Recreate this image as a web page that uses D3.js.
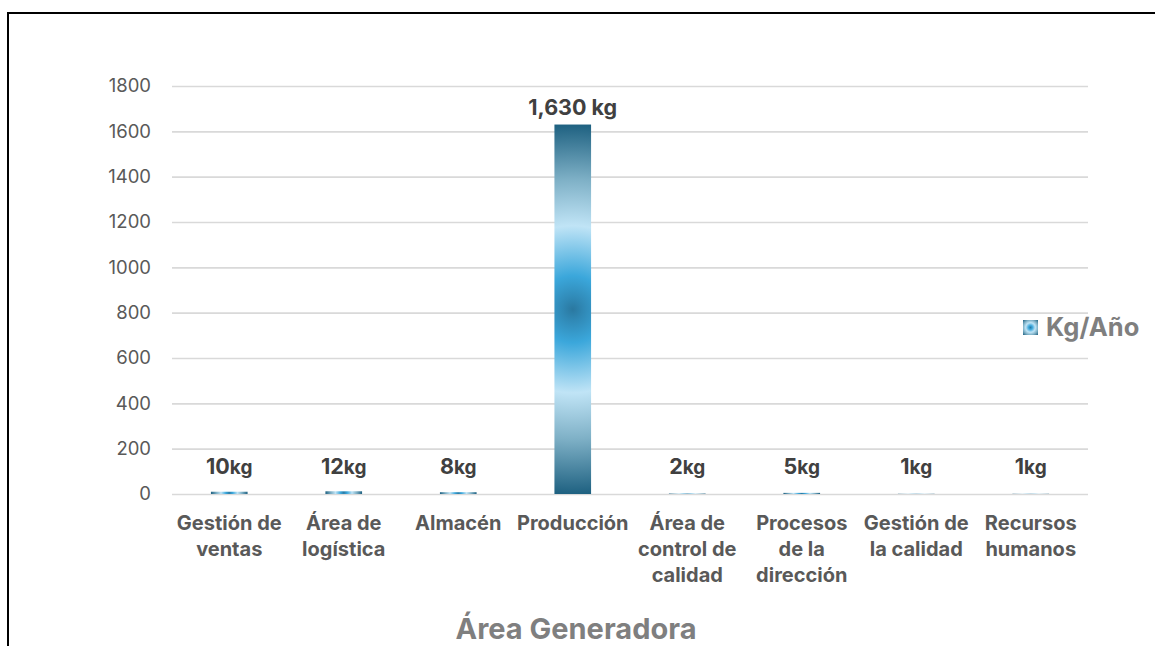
<!DOCTYPE html>
<html>
<head>
<meta charset="utf-8">
<script src="https://cdn.jsdelivr.net/npm/d3@7"></script>
<style>
  html, body { margin: 0; padding: 0; background: #fff; }
  svg { display: block; font-family: Inter, "Noto Sans", sans-serif; }
</style>
</head>
<body>
<svg id="chart" width="1155" height="646"></svg>
<script>
// Waste generated per area (kg per year)
const categories = [
  "Gestión de\nventas",
  "Área de\nlogística",
  "Almacén",
  "Producción",
  "Área de\ncontrol de\ncalidad",
  "Procesos\nde la\ndirección",
  "Gestión de\nla calidad",
  "Recursos\nhumanos"
];
const values = [10, 12, 8, 1630, 2, 5, 1, 1];
const valueLabels = ["10", "12", "8", "1,630 kg", "2", "5", "1", "1"];
const yTicks = [0, 200, 400, 600, 800, 1000, 1200, 1400, 1600, 1800];
const seriesName = "Kg/Año";
const axisTitle = "Área Generadora";

const svg = d3.select("#chart");
const plot = { left: 172, right: 1088, top: 86, bottom: 494 };

// Outer frame
svg.append("rect")
  .attr("x", 8).attr("y", 13)
  .attr("width", 1300).attr("height", 800)
  .attr("fill", "none").attr("stroke", "#000").attr("stroke-width", 2);

const x = d3.scaleBand()
  .domain(categories)
  .range([plot.left, plot.right])
  .paddingInner(0.68)
  .paddingOuter(0.34);

const y = d3.scaleLinear()
  .domain([0, 1800])
  .range([plot.bottom, plot.top]);

// Gridlines and value axis labels
const yAxis = d3.axisLeft(y)
  .tickValues(yTicks)
  .tickFormat(d3.format("d"))
  .tickSize(-(plot.right - plot.left))
  .tickPadding(21);

const gy = svg.append("g")
  .attr("transform", `translate(${plot.left},0)`)
  .call(yAxis);
gy.select(".domain").remove();
gy.selectAll(".tick line").attr("stroke", "#d9d9d9").attr("stroke-width", 1.6);
gy.selectAll(".tick text")
  .attr("fill", "#595959")
  .style("font-size", "18.5px")
  .style("font-family", "Inter, sans-serif");

// Circular fill stops, from the centre outward
const stops = [
  [0.00, "#2a78a0"],
  [0.06, "#3089b6"],
  [0.18, "#3ba7db"],
  [0.45, "#c0e4f6"],
  [0.70, "#7eb0c6"],
  [1.00, "#1d6080"]
];
const defs = svg.append("defs");
function addGradient(id, cx, cy, w, h) {
  const g = defs.append("radialGradient")
    .attr("id", id)
    .attr("gradientUnits", "userSpaceOnUse")
    .attr("cx", cx).attr("cy", cy)
    .attr("fx", cx).attr("fy", cy)
    .attr("r", Math.max(0.5, Math.hypot(w / 2, h / 2)));
  stops.forEach(s => g.append("stop").attr("offset", s[0]).attr("stop-color", s[1]));
  return `url(#${id})`;
}

// Bars
svg.append("g").selectAll("rect")
  .data(values)
  .join("rect")
  .each(function (d, i) {
    const bx = x(categories[i]);
    const bw = x.bandwidth();
    const by = y(d);
    const bh = y(0) - y(d);
    d3.select(this)
      .attr("x", bx).attr("y", by)
      .attr("width", bw).attr("height", bh)
      .attr("fill", addGradient("grad" + i, bx + bw / 2, by + bh / 2, bw, bh));
  });

// Value labels above bars
const labels = svg.append("g").selectAll("text")
  .data(values)
  .join("text")
  .attr("x", (d, i) => x(categories[i]) + x.bandwidth() / 2)
  .attr("y", d => Math.min(y(d) - 10, y(0) - 20))
  .attr("text-anchor", "middle")
  .attr("fill", "#404040")
  .style("font-weight", "700");
labels.each(function (d, i) {
  const t = d3.select(this);
  if (valueLabels[i].includes("kg")) {
    t.append("tspan").style("font-size", "21.5px").text(valueLabels[i]);
  } else {
    t.append("tspan").style("font-size", "21.5px").text(valueLabels[i]);
    t.append("tspan").style("font-size", "19px").text("kg");
  }
});

// Category labels
const catG = svg.append("g");
categories.forEach(c => {
  const t = catG.append("text")
    .attr("x", x(c) + x.bandwidth() / 2)
    .attr("y", 530)
    .attr("text-anchor", "middle")
    .attr("fill", "#595959")
    .style("font-size", "20px")
    .style("font-weight", "700");
  c.split("\n").forEach((line, k) => {
    t.append("tspan")
      .attr("x", x(c) + x.bandwidth() / 2)
      .attr("dy", k === 0 ? 0 : 26)
      .text(line);
  });
});

// Axis title
svg.append("text")
  .attr("x", (plot.left + plot.right) / 2 - 54)
  .attr("y", 639)
  .attr("text-anchor", "middle")
  .attr("fill", "#7f7f7f")
  .style("font-size", "29px")
  .style("font-weight", "700")
  .text(axisTitle);

// Legend
const lg = svg.append("g").attr("transform", "translate(1023,320)");
lg.append("rect")
  .attr("width", 15).attr("height", 15)
  .attr("fill", addGradient("gradLegend", 7.5, 7.5, 15, 15));
lg.append("text")
  .attr("x", 23).attr("y", 16)
  .attr("fill", "#7f7f7f")
  .style("font-size", "25.5px")
  .style("font-weight", "700")
  .text(seriesName);
</script>
</body>
</html>
